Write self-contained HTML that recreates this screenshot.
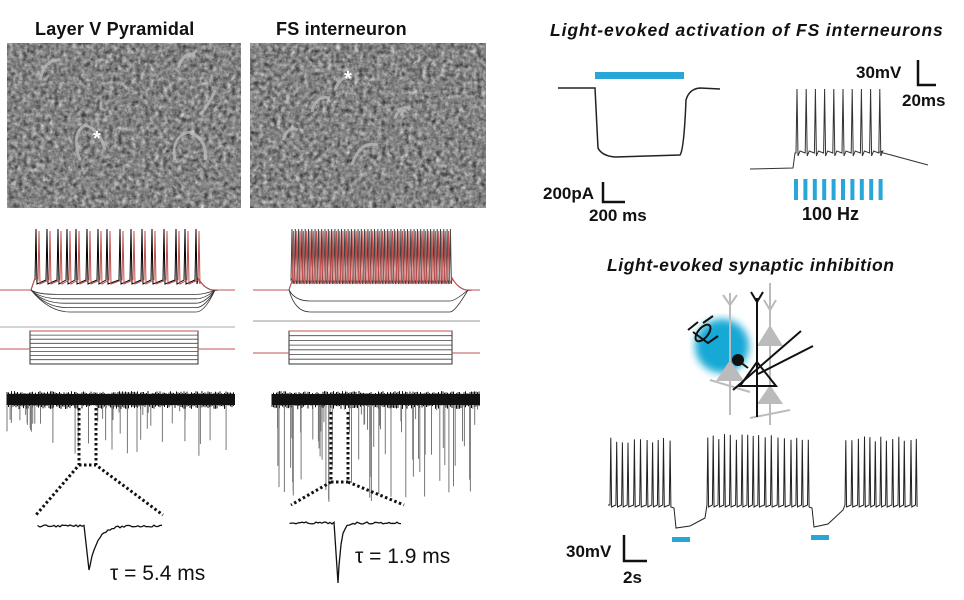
<!DOCTYPE html>
<html><head><meta charset="utf-8"><style>
html,body{margin:0;padding:0;background:#fff;}
svg{display:block;}
text{font-family:"Liberation Sans",sans-serif;fill:#111;}
</style></head><body>
<svg id="s" width="964" height="600" viewBox="0 0 964 600" xmlns="http://www.w3.org/2000/svg">
<defs>
<filter id="tex" x="0" y="0" width="100%" height="100%" color-interpolation-filters="sRGB">
<feTurbulence type="fractalNoise" baseFrequency="0.22" numOctaves="3" seed="5" result="n"/>
<feColorMatrix in="n" type="matrix" values="0.33 0.33 0.33 0 0  0.33 0.33 0.33 0 0  0.33 0.33 0.33 0 0  0 0 0 0 1"/>
<feComponentTransfer><feFuncR type="linear" slope="1.3" intercept="-0.13"/><feFuncG type="linear" slope="1.3" intercept="-0.13"/><feFuncB type="linear" slope="1.3" intercept="-0.13"/></feComponentTransfer>
</filter>
<filter id="blur"><feGaussianBlur stdDeviation="4"/></filter>
</defs>
<text x="35" y="35" font-size="18" font-weight="bold" letter-spacing="0.2">Layer V Pyramidal</text>
<text x="276" y="35" font-size="18" font-weight="bold" letter-spacing="0.2">FS interneuron</text>
<rect x="7" y="43" width="234" height="165" fill="#8a8a8a" filter="url(#tex)"/>
<rect x="250" y="43" width="236" height="165" fill="#878787" filter="url(#tex)"/>
<g fill="none" stroke="#bdbdbd" stroke-width="3" opacity="0.75">
<path d="M80 160 Q70 135 85 125 Q100 130 105 150"/><path d="M175 160 Q170 135 190 132 Q208 140 205 160"/><path d="M40 80 Q45 58 60 60"/><path d="M178 68 Q185 50 195 55"/><path d="M200 115 Q212 100 215 90"/>
<path d="M312 112 Q315 95 330 98"/><path d="M352 165 Q360 140 378 145"/><path d="M335 90 Q340 75 352 78"/><path d="M395 118 Q402 102 410 110"/><path d="M283 140 Q288 125 298 130"/>
</g>
<g fill="none" stroke="#5a5a5a" stroke-width="2" opacity="0.6">
<path d="M75 150 Q72 132 80 126"/><path d="M172 152 Q172 140 180 134"/><path d="M308 108 Q310 100 316 96"/><path d="M348 160 Q352 148 358 144"/>
</g>
<text x="93" y="145" font-size="20" font-weight="bold" style="fill:#fff">*</text>
<text x="344" y="85" font-size="20" font-weight="bold" style="fill:#fff">*</text>

<g id="g1" fill="none" stroke-width="1"></g>

<text x="110" y="580" font-size="21">τ = 5.4 ms</text>
<text x="355" y="563" font-size="21">τ = 1.9 ms</text>

<text x="550" y="36" font-size="17.5" font-weight="bold" font-style="italic" letter-spacing="0.9">Light-evoked activation of FS interneurons</text>
<rect x="595" y="72" width="89" height="7" fill="#29a6d8"/>
<path d="M558 88 L595 88 L598 148 Q602 156 615 157 L680 155 Q684 150 686 100 Q689 89 700 88 L720 89" fill="none" stroke="#222" stroke-width="1.5"/>
<path d="M603 182 V202 H625" fill="none" stroke="#111" stroke-width="2.5"/>
<text x="543" y="199" font-size="17" font-weight="bold">200pA</text>
<text x="589" y="221" font-size="17" font-weight="bold">200 ms</text>
<text x="856" y="78" font-size="17" font-weight="bold">30mV</text>
<path d="M918 60 V85 H936" fill="none" stroke="#111" stroke-width="2.5"/>
<text x="902" y="106" font-size="17" font-weight="bold">20ms</text>
<text x="802" y="220" font-size="18" font-weight="bold">100 Hz</text>
<g id="g2"></g>

<text x="607" y="271" font-size="17.5" font-weight="bold" font-style="italic" letter-spacing="0.6">Light-evoked synaptic inhibition</text>
<circle cx="722" cy="346" r="27" fill="#19a9d6" filter="url(#blur)"/>
<g stroke="#bbb" stroke-width="2" fill="none">
<path d="M730 293 V415 M723 295 L730 305 L737 295"/>
<path d="M770 283 V425 M764 300 L770 310 L776 300"/>
<path d="M710 380 L750 392 M750 418 L790 410"/>
</g>
<g fill="#bbb">
<polygon points="730,360 716,381 744,381"/>
<polygon points="770,325 757,346 783,346"/>
<polygon points="770,385 757,404 783,404"/>
</g>
<g stroke="#111" stroke-width="2" fill="none">
<path d="M757 298 V417 M751 292 L757 302 L763 292"/>
<polygon points="757,362 740,386 776,386"/>
<path d="M733 390 L801 331 M758 374 L813 346"/>
<path d="M688 330 L698 322 M693 332 L708 343 L718 336 M703 323 L713 316"/>
<ellipse cx="703" cy="333" rx="5" ry="10" transform="rotate(40 703 333)"/>
<path d="M740 362 L748 368"/>
</g>
<circle cx="738" cy="360" r="6" fill="#111"/>
<rect x="672" y="537" width="18" height="5" fill="#29a6d8"/>
<rect x="811" y="535" width="18" height="5" fill="#29a6d8"/>
<text x="566" y="557" font-size="17" font-weight="bold">30mV</text>
<path d="M624 535 V561 H647" fill="none" stroke="#111" stroke-width="2.5"/>
<text x="623" y="583" font-size="17" font-weight="bold">2s</text>
<g id="g3"></g>
</svg>
<script>
var NS="http://www.w3.org/2000/svg";
function P(g,d,st,w,extra){var p=document.createElementNS(NS,"path");p.setAttribute("d",d);p.setAttribute("fill","none");p.setAttribute("stroke",st);p.setAttribute("stroke-width",w||1);if(extra)for(var k in extra)p.setAttribute(k,extra[k]);document.getElementById(g).appendChild(p);}
function R(g,x,y,w,h,f){var r=document.createElementNS(NS,"rect");r.setAttribute("x",x);r.setAttribute("y",y);r.setAttribute("width",w);r.setAttribute("height",h);r.setAttribute("fill",f);document.getElementById(g).appendChild(r);}
var rnd=(function(){var s=7;return function(){s=(s*9301+49297)%233280;return s/233280;};})();
function cell(x0,x1,s0,s1,top,base,spikes,col){
 var d="M"+x0+" "+base+" L"+s0+" "+base;
 var plat=base-12;
 d+=" L"+(s0+4)+" "+plat;
 for(var i=0;i<spikes.length;i++){var x=spikes[i];d+=" L"+x+" "+(plat+2)+" L"+(x+1)+" "+top+" L"+(x+2)+" "+(plat+6);}
 d+=" L"+s1+" "+plat+" Q"+(s1+8)+" "+(base+2)+" "+(s1+20)+" "+base+" L"+x1+" "+base;
 P("g1",d,col,1);
}
var sp=[];for(var x=35;x<196;x+=8+rnd()*6)sp.push(Math.round(x));
var sp2=[];for(var i=0;i<sp.length;i+=1)sp2.push(sp[i]+3);
cell(0,235,31,198,229,290,sp,"#000");
cell(0,235,31,198,231,290,sp2,"#c0504d");
for(var k=1;k<=5;k++){var y=290+k*4.4;P("g1","M31 290 Q"+(34+k*3)+" "+y+" "+(55+k*3)+" "+y+" L196 "+y+" Q205 "+y+" 215 290","#333",0.8);}
P("g1","M0 327 H235","#aaa",1);
P("g1","M30 331 H198 V364 H30 Z","#333",1);
for(var k=1;k<8;k++)P("g1","M30 "+(331+k*4.1)+" H198","#444",0.8);
P("g1","M0 349 H30 M198 349 H235 M30 331 H198","#c0504d",1);
var f1=[];for(var x=291;x<450;x+=3.3)f1.push(x);
var f2=[];for(var x=292.5;x<450;x+=3.3)f2.push(x);
cell(253,480,289,452,229,290,f1,"#444");
cell(253,480,289,452,231,290,f2,"#c0504d");
for(var k=1;k<=2;k++){var y=290+k*11;P("g1","M289 290 Q295 "+y+" 310 "+y+" L450 "+y+" Q455 "+y+" 468 290","#333",0.8);}
P("g1","M253 321 H480","#999",1);
P("g1","M289 331 H452 V364 H289 Z","#333",1);
for(var k=1;k<7;k++)P("g1","M289 "+(331+k*4.7)+" H452","#444",0.8);
P("g1","M253 353 H289 M452 353 H480 M289 331 H452","#c0504d",1);
function band(x0,x1,yc,n,maxd){
 R("g1",x0,yc-6,x1-x0,11,"#111");
 var d="";for(var x=x0;x<x1;x+=1.5){d+="M"+x+" "+(yc-6-rnd()*3)+" V"+(yc+5+rnd()*4)+" ";}
 P("g1",d,"#111",1);
 var e="";for(var i=0;i<n;i++){var x=x0+rnd()*(x1-x0);e+="M"+x.toFixed(1)+" "+(yc+5)+" V"+(yc+8+rnd()*maxd).toFixed(1)+" ";}
 P("g1",e,"#777",1);
}
band(7,235,400,45,48);
band(272,480,400,70,95);
var dot={"stroke-dasharray":"2.5 2.5"};
P("g1","M79 408 V465 L36 515 M96 408 V465 L163 515 M79 465 H96","#111",3,dot);
P("g1","M331 412 V482 L291 505 M348 412 V482 L404 505 M331 482 H348","#111",3,dot);
function psc(x0,x1,xd,y,depth,tau){var d="M"+x0+" "+y;for(var x=x0;x<xd;x+=2)d+=" L"+x+" "+(y+(rnd()-0.5)*2).toFixed(1);d+=" L"+(xd+3)+" "+(y+depth);for(var x=xd+4;x<x1;x+=2){d+=" L"+x+" "+(y+depth*Math.exp(-(x-xd-3)/tau)+(rnd()-0.5)*2).toFixed(1);}P("g1",d,"#111",1.3);}
psc(38,163,86,526,44,8);
psc(290,403,335,523,60,3);
for(var i=0;i<10;i++)R("g2",794+i*9.4,179,4,21,"#29a6d8");
var d="M750 169 L793 168 L795 153";
for(var i=0;i<10;i++){var x=796+i*9.2;d+=" L"+x+" 153 L"+(x+1)+" 89 L"+(x+2)+" 156 L"+(x+4)+" 151";}
d+=" L880 152 L928 165";
P("g2",d,"#333",1);
function train(x0,x1,top,base){var s="";for(var x=x0;x<x1;x+=5.3+rnd()*1.5){s+=" L"+x.toFixed(1)+" "+base+" L"+(x+0.8).toFixed(1)+" "+(top+rnd()*6).toFixed(1)+" L"+(x+1.6).toFixed(1)+" "+(base+2);}return s;}
var t="M608 505"+train(610,672,437,505)+" L674 508 L676 528 L690 526 L705 518"+train(707,810,434,505)+" L812 508 L814 527 L828 524 L843 510"+train(845,918,436,505);
P("g3",t,"#222",1);
</script>
</body></html>
